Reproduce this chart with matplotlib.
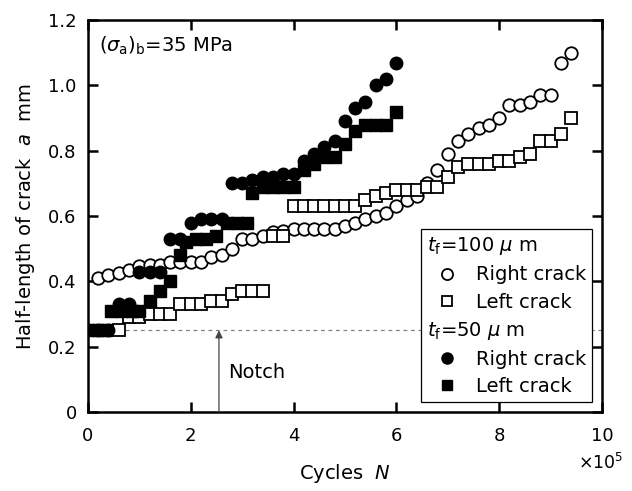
import matplotlib.pyplot as plt
from matplotlib.lines import Line2D

# cycles in units of 1e5, half-length in mm
r100_x = [0.2, 0.4, 0.6, 0.8, 1.0, 1.2, 1.4, 1.6, 1.8, 2.0, 2.2, 2.4, 2.6, 2.8, 3.0, 3.2,
          3.4, 3.6, 3.8, 4.0, 4.2, 4.4, 4.6, 4.8, 5.0, 5.2, 5.4, 5.6, 5.8, 6.0, 6.2, 6.4,
          6.6, 6.8, 7.0, 7.2, 7.4, 7.6, 7.8, 8.0, 8.2, 8.4, 8.6, 8.8, 9.0, 9.2, 9.4]
r100_y = [0.41, 0.42, 0.425, 0.435, 0.447, 0.45, 0.45, 0.46, 0.46, 0.46, 0.46, 0.475, 0.48,
          0.50, 0.53, 0.53, 0.54, 0.55, 0.555, 0.56, 0.56, 0.56, 0.56, 0.56, 0.57, 0.58, 0.59,
          0.60, 0.61, 0.63, 0.65, 0.66, 0.70, 0.74, 0.79, 0.83, 0.85, 0.87, 0.88, 0.90, 0.94,
          0.94, 0.95, 0.97, 0.97, 1.07, 1.10]

l100_x = [0.6, 0.8, 1.0, 1.2, 1.4, 1.6, 1.8, 2.0, 2.2, 2.4, 2.6, 2.8, 3.0, 3.2, 3.4, 3.6, 3.8,
          4.0, 4.2, 4.4, 4.6, 4.8, 5.0, 5.2, 5.4, 5.6, 5.8, 6.0, 6.2, 6.4, 6.6, 6.8, 7.0, 7.2,
          7.4, 7.6, 7.8, 8.0, 8.2, 8.4, 8.6, 8.8, 9.0, 9.2, 9.4]
l100_y = [0.25, 0.29, 0.29, 0.30, 0.30, 0.30, 0.33, 0.33, 0.33, 0.34, 0.34, 0.36, 0.37, 0.37,
          0.37, 0.54, 0.54, 0.63, 0.63, 0.63, 0.63, 0.63, 0.63, 0.63, 0.65, 0.66, 0.67, 0.68,
          0.68, 0.68, 0.69, 0.69, 0.72, 0.75, 0.76, 0.76, 0.76, 0.77, 0.77, 0.78, 0.79, 0.83,
          0.83, 0.85, 0.90]

r50_x = [0.0, 0.2, 0.4, 0.6, 0.8, 1.0, 1.2, 1.4, 1.6, 1.8, 2.0, 2.2, 2.4, 2.6, 2.8, 3.0, 3.2,
         3.4, 3.6, 3.8, 4.0, 4.2, 4.4, 4.6, 4.8, 5.0, 5.2, 5.4, 5.6, 5.8, 6.0]
r50_y = [0.25, 0.25, 0.25, 0.33, 0.33, 0.43, 0.43, 0.43, 0.53, 0.53, 0.58, 0.59, 0.59, 0.59,
         0.70, 0.70, 0.71, 0.72, 0.72, 0.73, 0.73, 0.77, 0.79, 0.81, 0.83, 0.89, 0.93, 0.95,
         1.00, 1.02, 1.07]

l50_x = [0.0, 0.2, 0.35, 0.45, 0.65, 0.85, 1.0, 1.2, 1.4, 1.6, 1.8, 1.9, 2.1, 2.3, 2.5, 2.7,
         2.9, 3.1, 3.2, 3.4, 3.6, 3.8, 4.0, 4.2, 4.4, 4.6, 4.8, 5.0, 5.2, 5.4, 5.6, 5.8, 6.0]
l50_y = [0.25, 0.25, 0.25, 0.31, 0.31, 0.31, 0.31, 0.34, 0.37, 0.40, 0.48, 0.52, 0.53, 0.53,
         0.54, 0.58, 0.58, 0.58, 0.67, 0.69, 0.69, 0.69, 0.69, 0.74, 0.76, 0.78, 0.78, 0.82,
         0.86, 0.88, 0.88, 0.88, 0.92]

notch_a = 0.25
notch_arrow_x = 2.55

plt.rcParams['font.family'] = ['DejaVu Sans']
plt.rcParams['mathtext.fontset'] = 'dejavusans'
plt.rcParams['font.size'] = 13

fig, ax = plt.subplots(figsize=(6.32, 4.91), dpi=100)
fig.subplots_adjust(left=0.139, right=0.9525, bottom=0.161, top=0.959)

ms = 9
ax.plot(r100_x, r100_y, 'o', ms=ms, mfc='white', mec='black', mew=1.3, zorder=3)
ax.plot(l100_x, l100_y, 's', ms=ms - 0.8, mfc='white', mec='black', mew=1.3, zorder=3)
ax.plot(r50_x, r50_y, 'o', ms=ms, mfc='black', mec='black', mew=1.0, zorder=4)
ax.plot(l50_x, l50_y, 's', ms=ms - 0.8, mfc='black', mec='black', mew=1.0, zorder=4)

ax.axhline(notch_a, color='gray', ls=(0, (3, 3)), lw=0.9, zorder=1)
ax.annotate('', xy=(notch_arrow_x, notch_a), xytext=(notch_arrow_x, 0),
            arrowprops=dict(arrowstyle='-|>', color='#444444', lw=0.9, mutation_scale=11,
                            shrinkA=0, shrinkB=0))
ax.text(notch_arrow_x + 0.17, 0.12, 'Notch', va='center', fontsize=14)

ax.text(0.022, 0.935, r'($\sigma_{\rm a}$)$_{\rm b}$=35 MPa', transform=ax.transAxes,
        va='center', fontsize=14)

ax.set_xlim(0, 10)
ax.set_ylim(0, 1.2)
ax.set_xticks([0, 2, 4, 6, 8, 10])
ax.set_yticks([0, 0.2, 0.4, 0.6, 0.8, 1.0, 1.2])
ax.set_yticklabels(['0', '0.2', '0.4', '0.6', '0.8', '1.0', '1.2'])
ax.tick_params(direction='in', length=7, width=1.8, top=True, right=True)
ax.tick_params(axis='x', pad=11)
ax.tick_params(axis='y', pad=8)
for sp in ax.spines.values():
    sp.set_linewidth(1.8)

ax.set_xlabel(r'Cycles  $N$', labelpad=12, fontsize=14)
ax.set_ylabel(r'Half-length of crack  $a$  mm', labelpad=8, fontsize=14)
ax.text(1.042, -0.105, r'$\times10^5$', transform=ax.transAxes, ha='right', va='top',
        fontsize=12.5)

handles = [
    Line2D([], [], ls='none'),
    Line2D([], [], marker='o', ls='none', ms=8, mfc='white', mec='black', mew=1.3),
    Line2D([], [], marker='s', ls='none', ms=7.5, mfc='white', mec='black', mew=1.3),
    Line2D([], [], ls='none'),
    Line2D([], [], marker='o', ls='none', ms=8, mfc='black', mec='black'),
    Line2D([], [], marker='s', ls='none', ms=7.5, mfc='black', mec='black'),
]
labels = [r'$t_{\rm f}$=100 $\mu$ m', 'Right crack', 'Left crack',
          r'$t_{\rm f}$=50 $\mu$ m', 'Right crack', 'Left crack']
leg = ax.legend(handles, labels, loc='lower right', bbox_to_anchor=(0.9805, 0.0255),
                borderaxespad=0, frameon=True, fancybox=False, framealpha=1,
                edgecolor='black', handlelength=2.0, handletextpad=0.5,
                borderpad=0.3, labelspacing=0.42, fontsize=14)
leg.get_frame().set_linewidth(0.9)
leg.set_zorder(5)

# pull the two header rows flush to the left edge of the box
rows = leg._legend_handle_box.get_children()[0].get_children()
for i in (0, 3):
    rows[i].get_children()[0].width = 0
    rows[i].sep = 0

fig.savefig('out.png', dpi=100)
